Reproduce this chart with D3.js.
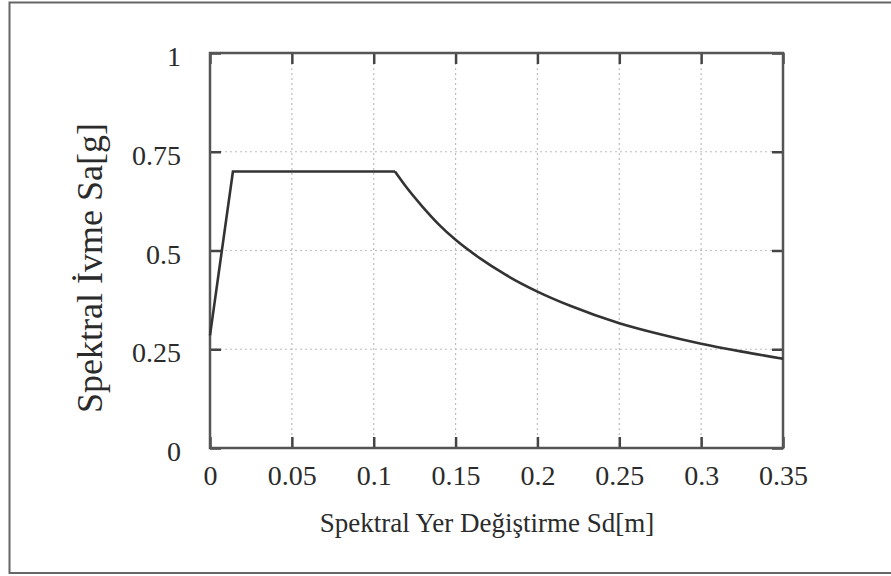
<!DOCTYPE html>
<html>
    <head>
        <script src="https://d3js.org/d3.v7.min.js"></script>
        <style>
            * { margin: 0; padding: 0; }
            body { background: #fff; overflow: hidden; }
            svg { display: block; }
            text { font-family: 'Liberation Serif', 'Times New Roman', 'DejaVu Serif', serif; fill: #2b2b2b; }
            .grid line { stroke: #bdbdbd; stroke-width: 1.2px; stroke-dasharray: 2, 3; }
        </style>
    </head>
    <body>
        <script>
            // values
            const sd = [0, 0.014, 0.113, 0.12, 0.13, 0.14, 0.15, 0.165, 0.18, 0.2, 0.22, 0.25, 0.275, 0.3, 0.325, 0.35];
            const sa = [0.285, 0.7, 0.7, 0.66, 0.61, 0.565, 0.527, 0.48, 0.44, 0.396, 0.36, 0.316, 0.288, 0.264, 0.244, 0.226];
            const xTicks = [0, 0.05, 0.1, 0.15, 0.2, 0.25, 0.3, 0.35];
            const yTicks = [0, 0.25, 0.5, 0.75, 1];
            const xTitle = 'Spektral Yer Değiştirme Sd[m]';
            const yTitle = 'Spektral İvme Sa[g]';

            const width = 891;
            const height = 576;
            const plot = { left: 210, right: 783, top: 53, bottom: 448 };
            const serif = "'Liberation Serif', 'Times New Roman', 'DejaVu Serif', serif";

            const svg = d3.select('body').append('svg').attr('width', width).attr('height', height);

            // outer frame (right edge runs off the picture)
            svg.append('rect')
                .attr('x', 9.5).attr('y', 2.5)
                .attr('width', 895).attr('height', 570.5)
                .attr('fill', 'none').attr('stroke', '#666').attr('stroke-width', 2);

            const x = d3.scaleLinear().domain([0, 0.35]).range([plot.left, plot.right]);
            const y = d3.scaleLinear().domain([0, 1]).range([plot.bottom, plot.top]);
            const fmt = (d) => String(+d.toFixed(2));

            // dotted grid
            const grid = svg.append('g').attr('class', 'grid');
            grid.selectAll('.gx').data(xTicks.slice(1, -1)).enter().append('line')
                .attr('x1', (d) => x(d)).attr('x2', (d) => x(d))
                .attr('y1', plot.top).attr('y2', plot.bottom);
            grid.selectAll('.gy').data(yTicks.slice(1, -1)).enter().append('line')
                .attr('x1', plot.left).attr('x2', plot.right)
                .attr('y1', (d) => y(d)).attr('y2', (d) => y(d));

            // axes with inward ticks, mirrored on top/right
            const tickLen = 11;
            const styleAxis = (g) => {
                g.attr('font-family', serif);
                g.select('.domain').remove();
                g.selectAll('.tick line').attr('stroke', '#444').attr('stroke-width', 2.5);
                g.selectAll('.tick text').attr('font-size', 28).style('font-family', serif).attr('fill', '#2b2b2b');
            };
            svg.append('g').attr('transform', `translate(0,${plot.bottom})`)
                .call(d3.axisBottom(x).tickValues(xTicks).tickFormat(fmt).tickSizeInner(-tickLen).tickSizeOuter(0).tickPadding(17))
                .call(styleAxis);
            svg.append('g').attr('transform', `translate(0,${plot.top})`)
                .call(d3.axisTop(x).tickValues(xTicks).tickFormat('').tickSizeInner(-tickLen).tickSizeOuter(0))
                .call(styleAxis);
            svg.append('g').attr('transform', `translate(${plot.left},0)`)
                .call(d3.axisLeft(y).tickValues(yTicks).tickFormat(fmt).tickSizeInner(-tickLen).tickSizeOuter(0).tickPadding(29))
                .call(styleAxis)
                .selectAll('.tick text').attr('dy', '0.45em');
            svg.append('g').attr('transform', `translate(${plot.right},0)`)
                .call(d3.axisRight(y).tickValues(yTicks).tickFormat('').tickSizeInner(-tickLen).tickSizeOuter(0))
                .call(styleAxis);

            // plot border
            svg.append('rect')
                .attr('x', plot.left).attr('y', plot.top)
                .attr('width', plot.right - plot.left).attr('height', plot.bottom - plot.top)
                .attr('fill', 'none').attr('stroke', '#555').attr('stroke-width', 2.5);

            // spectrum curve
            const line = d3.line().x((d) => x(d[0])).y((d) => y(d[1])).curve(d3.curveMonotoneX);
            const pts = sd.map((d, i) => [d, sa[i]]);
            svg.append('path')
                .datum(pts.slice(0, 3))
                .attr('d', d3.line().x((d) => x(d[0])).y((d) => y(d[1])))
                .attr('fill', 'none').attr('stroke', '#333').attr('stroke-width', 2.6);
            svg.append('path')
                .datum(pts.slice(2))
                .attr('d', line)
                .attr('fill', 'none').attr('stroke', '#333').attr('stroke-width', 2.6);

            // axis titles
            svg.append('text')
                .attr('x', 487).attr('y', 532)
                .attr('text-anchor', 'middle').attr('font-size', 27)
                .style('font-family', serif)
                .text(xTitle);
            svg.append('text')
                .attr('transform', `translate(102,268) rotate(-90)`)
                .attr('text-anchor', 'middle').attr('font-size', 36)
                .style('font-family', serif)
                .text(yTitle);
        </script>
    </body>
</html>
